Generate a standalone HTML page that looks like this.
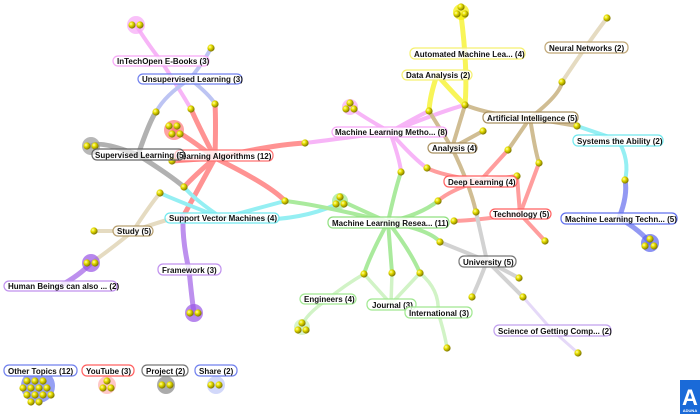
<!DOCTYPE html>
<html><head><meta charset="utf-8"><style>
html,body{margin:0;padding:0;background:#fff;width:700px;height:414px;overflow:hidden}
svg text{font-family:"Liberation Sans",sans-serif;font-size:8px;font-weight:bold;fill:#111}
</style></head><body>
<svg width="700" height="414" viewBox="0 0 700 414" xmlns="http://www.w3.org/2000/svg">
<defs>
<radialGradient id="b" cx="35%" cy="35%" r="65%"><stop offset="0" stop-color="#ffffb0"/><stop offset="0.4" stop-color="#e8e000"/><stop offset="1" stop-color="#807800"/></radialGradient>
</defs>
<g fill="none" stroke-linecap="round" stroke-width="4" opacity="0.65">
<!-- pink InTech -->
<g stroke="#f38ef3"><path d="M161 61 Q145 40 136 25"/><path d="M161 61 Q180 90 191 109"/></g>
<!-- blue unsup -->
<g stroke="#9aa5ee"><path d="M190 79 Q205 60 211 48"/><path d="M190 79 Q165 95 156 112"/><path d="M190 79 Q210 95 215 104"/></g>
<!-- red hub -->
<g stroke="#ff5a5a" stroke-width="5"><path d="M215 158 Q185 135 174 130"/><path d="M215 158 Q198 125 191 109"/><path d="M215 158 Q216 120 215 104"/><path d="M215 158 L172 161"/><path d="M215 158 Q195 175 184 187"/><path d="M215 158 Q270 185 285 201"/><path d="M215 158 Q270 145 305 143"/><path d="M215 158 Q195 195 184 215"/></g>
<!-- gray sup -->
<g stroke="#888" stroke-width="5"><path d="M138 155 Q100 140 91 146"/><path d="M138 155 Q150 120 156 112"/><path d="M138 155 Q170 175 184 187"/></g>
<!-- cyan svm -->
<g stroke="#5ee8ee" stroke-width="4"><path d="M222 218 Q195 200 184 187"/><path d="M222 218 Q270 205 285 201"/><path d="M222 218 Q290 225 335 205"/><path d="M222 218 Q175 200 160 193"/></g>
<!-- tan study -->
<g stroke="#d8c8a0"><path d="M133 231 L94 231"/><path d="M133 231 Q110 250 91 263"/><path d="M133 231 Q150 205 160 193"/><path d="M133 231 Q165 220 185 215"/></g>
<!-- purple -->
<g stroke="#9a55e6" stroke-width="5"><path d="M60 286 Q80 275 91 263"/><path d="M189 270 Q182 240 183 215"/><path d="M189 270 Q192 300 194 313"/></g>
<!-- green MLR -->
<g stroke="#7ee06a" stroke-width="4"><path d="M388 222 Q350 205 340 200"/><path d="M388 222 Q320 205 285 201"/><path d="M388 222 Q395 190 401 172"/><path d="M388 222 Q420 215 438 201"/><path d="M388 222 Q430 230 440 242"/><path d="M388 222 Q370 255 364 274"/><path d="M388 222 L392 273"/><path d="M388 222 Q410 250 420 273"/><path d="M388 222 Q305 200 305 143" opacity="0"/></g>
<g stroke="#b9eea8" stroke-width="3.5"><path d="M328 299 Q345 285 364 274"/><path d="M328 299 Q305 315 302 326"/><path d="M391 304 L364 274"/><path d="M391 304 L392 273"/><path d="M391 304 L420 273"/><path d="M438 312 Q440 290 420 273"/><path d="M438 312 Q445 335 447 348"/></g>
<!-- pink MLM -->
<g stroke="#f38ef3" stroke-width="4"><path d="M390 132 Q360 115 350 107"/><path d="M390 132 Q330 140 305 143"/><path d="M390 132 Q420 115 429 111"/><path d="M390 132 Q445 110 465 105"/><path d="M390 132 Q400 160 401 172"/><path d="M390 132 Q415 160 427 168"/></g>
<!-- yellow -->
<g stroke="#f5f000" stroke-width="5"><path d="M461 15 Q468 70 465 105"/><path d="M437 75 Q430 95 429 111"/><path d="M437 75 Q455 95 465 105"/></g>
<!-- tan AI -->
<g stroke="#b89a5a" stroke-width="4"><path d="M530 118 Q560 95 562 82"/><path d="M562 82 Q590 40 607 18" stroke="#d8c8a0"/><path d="M530 118 Q490 115 465 105"/><path d="M530 118 L577 126"/><path d="M530 118 Q535 150 539 163"/><path d="M530 118 Q515 140 508 150"/><path d="M452 148 L429 111"/><path d="M452 148 L465 105"/><path d="M452 148 L483 131"/><path d="M452 148 Q470 185 476 212"/></g>
<!-- cyan sys -->
<g stroke="#5ee8ee"><path d="M618 140 L577 126"/><path d="M618 140 Q630 160 625 180"/></g>
<!-- blue MLT -->
<g stroke="#5a64ee" stroke-width="5"><path d="M619 218 Q628 195 625 180"/><path d="M619 218 Q640 230 650 243"/></g>
<!-- red deep/tech -->
<g stroke="#ff6a6a" stroke-width="4"><path d="M480 181 L508 150"/><path d="M480 181 L517 176"/><path d="M480 181 Q450 190 438 201"/><path d="M480 181 Q440 175 427 168"/><path d="M520 214 L539 163"/><path d="M520 214 L517 176"/><path d="M520 214 Q535 230 545 241"/><path d="M520 214 Q480 220 454 221"/></g>
<!-- gray univ -->
<g stroke="#bbb" stroke-width="4"><path d="M487 261 L476 212"/><path d="M487 261 L440 242"/><path d="M487 261 Q478 285 472 297"/><path d="M487 261 L519 278"/><path d="M487 261 L523 297"/></g>
<g stroke="#d8c6f5" stroke-width="3"><path d="M552 330 L523 297"/><path d="M552 330 L578 353"/></g>
</g>
<!-- cluster blobs -->
<g opacity="0.7">
<circle cx="136" cy="25" r="9" fill="#f7a8f7"/>
<circle cx="174" cy="130" r="10" fill="#ff7a7a"/>
<circle cx="91" cy="146" r="9" fill="#999"/>
<circle cx="91" cy="263" r="9" fill="#9a55e6"/>
<circle cx="194" cy="313" r="9" fill="#9a55e6"/>
<circle cx="302" cy="327" r="8" fill="#c8f0b8"/>
<circle cx="340" cy="201" r="8" fill="#9ee88a"/>
<circle cx="350" cy="107" r="8" fill="#f7a8f7"/>
<circle cx="461" cy="12" r="8" fill="#f5f000"/>
<circle cx="650" cy="243" r="9" fill="#5a64ee"/>
<circle cx="38" cy="386" r="17" fill="#6a78f0"/>
<circle cx="107" cy="385" r="9" fill="#ffb0b0"/>
<circle cx="166" cy="385" r="9" fill="#888"/>
<circle cx="216" cy="385" r="9" fill="#c0c8f8"/>
</g>
<!-- balls -->
<g fill="url(#b)">
<circle cx="132" cy="25" r="3.6"/><circle cx="140" cy="25" r="3.6"/>
<circle cx="211" cy="48" r="3.6"/><circle cx="191" cy="109" r="3.6"/><circle cx="215" cy="104" r="3.6"/><circle cx="156" cy="112" r="3.6"/>
<circle cx="169" cy="126" r="3.6"/><circle cx="177" cy="126" r="3.6"/><circle cx="172" cy="134" r="3.6"/><circle cx="180" cy="134" r="3.6"/>
<circle cx="87" cy="146" r="3.6"/><circle cx="95" cy="146" r="3.6"/>
<circle cx="172" cy="161" r="3.6"/><circle cx="160" cy="193" r="3.6"/><circle cx="184" cy="187" r="3.6"/>
<circle cx="285" cy="201" r="3.6"/><circle cx="305" cy="143" r="3.6"/>
<circle cx="340" cy="197" r="3.6"/><circle cx="336" cy="204" r="3.6"/><circle cx="344" cy="204" r="3.6"/>
<circle cx="350" cy="103" r="3.6"/><circle cx="346" cy="109" r="3.6"/><circle cx="354" cy="109" r="3.6"/>
<circle cx="461" cy="7" r="3.6"/><circle cx="457" cy="14" r="3.6"/><circle cx="465" cy="14" r="3.6"/>
<circle cx="465" cy="105" r="3.6"/><circle cx="429" cy="111" r="3.6"/><circle cx="483" cy="131" r="3.6"/>
<circle cx="562" cy="82" r="3.6"/><circle cx="607" cy="18" r="3.6"/><circle cx="577" cy="126" r="3.6"/>
<circle cx="508" cy="150" r="3.6"/><circle cx="539" cy="163" r="3.6"/><circle cx="517" cy="176" r="3.6"/>
<circle cx="427" cy="168" r="3.6"/><circle cx="401" cy="172" r="3.6"/><circle cx="438" cy="201" r="3.6"/>
<circle cx="625" cy="180" r="3.6"/><circle cx="650" cy="239" r="3.6"/><circle cx="645" cy="246" r="3.6"/><circle cx="654" cy="246" r="3.6"/>
<circle cx="545" cy="241" r="3.6"/><circle cx="476" cy="212" r="3.6"/><circle cx="454" cy="221" r="3.6"/><circle cx="440" cy="242" r="3.6"/>
<circle cx="364" cy="274" r="3.6"/><circle cx="392" cy="273" r="3.6"/><circle cx="420" cy="273" r="3.6"/>
<circle cx="472" cy="297" r="3.6"/><circle cx="519" cy="278" r="3.6"/><circle cx="523" cy="297" r="3.6"/>
<circle cx="578" cy="353" r="3.6"/><circle cx="447" cy="348" r="3.6"/>
<circle cx="302" cy="323" r="3.6"/><circle cx="298" cy="330" r="3.6"/><circle cx="306" cy="330" r="3.6"/>
<circle cx="94" cy="231" r="3.6"/><circle cx="87" cy="263" r="3.6"/><circle cx="95" cy="263" r="3.6"/>
<circle cx="190" cy="313" r="3.6"/><circle cx="198" cy="313" r="3.6"/>
<circle cx="107" cy="381" r="3.6"/><circle cx="103" cy="388" r="3.6"/><circle cx="111" cy="388" r="3.6"/>
<circle cx="162" cy="385" r="3.6"/><circle cx="170" cy="385" r="3.6"/>
<circle cx="211" cy="385" r="3.6"/><circle cx="219" cy="385" r="3.6"/>
<circle cx="27" cy="381" r="3.6"/><circle cx="35" cy="381" r="3.6"/><circle cx="43" cy="381" r="3.6"/>
<circle cx="23" cy="388" r="3.6"/><circle cx="31" cy="388" r="3.6"/><circle cx="39" cy="388" r="3.6"/><circle cx="47" cy="388" r="3.6"/>
<circle cx="27" cy="395" r="3.6"/><circle cx="35" cy="395" r="3.6"/><circle cx="43" cy="395" r="3.6"/><circle cx="51" cy="395" r="3.6"/>
<circle cx="31" cy="402" r="3.6"/><circle cx="39" cy="402" r="3.6"/>
</g>
<!-- labels -->
<g stroke-width="1.2">
<rect x="113" y="56" width="96" height="10" rx="5" fill="#fff" fill-opacity="0.8" stroke="#f7a8f7"/><text x="117" y="64">InTechOpen E-Books (3)</text>
<rect x="138" y="74" width="104" height="10" rx="5" fill="#fff" fill-opacity="0.8" stroke="#7080ee"/><text x="142" y="82">Unsupervised Learning (3)</text>
<rect x="175" y="150" width="98" height="11" rx="5" fill="#fff" fill-opacity="0.8" stroke="#ff7070"/><text x="177" y="159">Learning Algorithms (12)</text>
<rect x="92" y="149" width="92" height="11" rx="5" fill="#fff" fill-opacity="0.6" stroke="#666"/><text x="95" y="158">Supervised Learning (5)</text>
<rect x="332" y="127" width="115" height="10" rx="5" fill="#fff" fill-opacity="0.8" stroke="#f7a8f7"/><text x="335" y="135">Machine Learning Metho... (8)</text>
<rect x="410" y="48" width="115" height="11" rx="5" fill="#fff" fill-opacity="0.8" stroke="#f5f070"/><text x="414" y="57">Automated Machine Lea... (4)</text>
<rect x="402" y="70" width="70" height="10" rx="5" fill="#fff" fill-opacity="0.8" stroke="#f5f070"/><text x="406" y="78">Data Analysis (2)</text>
<rect x="545" y="42" width="83" height="11" rx="5" fill="#fff" fill-opacity="0.8" stroke="#c0a878"/><text x="549" y="51">Neural Networks (2)</text>
<rect x="483" y="112" width="95" height="11" rx="5" fill="#fff" fill-opacity="0.8" stroke="#a89060"/><text x="487" y="121">Artificial Intelligence (5)</text>
<rect x="428" y="143" width="49" height="10" rx="5" fill="#fff" fill-opacity="0.8" stroke="#a89060"/><text x="432" y="151">Analysis (4)</text>
<rect x="573" y="135" width="90" height="11" rx="5" fill="#fff" fill-opacity="0.8" stroke="#70e8ee"/><text x="577" y="144">Systems the Ability (2)</text>
<rect x="444" y="176" width="73" height="11" rx="5" fill="#fff" fill-opacity="0.8" stroke="#ff6060"/><text x="448" y="185">Deep Learning (4)</text>
<rect x="490" y="209" width="61" height="10" rx="5" fill="#fff" fill-opacity="0.8" stroke="#ff6060"/><text x="493" y="217">Technology (5)</text>
<rect x="561" y="213" width="116" height="11" rx="5" fill="#fff" fill-opacity="0.8" stroke="#6070ee"/><text x="565" y="222">Machine Learning Techn... (5)</text>
<rect x="328" y="217" width="121" height="11" rx="5" fill="#fff" fill-opacity="0.8" stroke="#90e080"/><text x="332" y="226">Machine Learning Resea... (11)</text>
<rect x="165" y="213" width="114" height="10" rx="5" fill="#fff" fill-opacity="0.8" stroke="#70e8ee"/><text x="169" y="221">Support Vector Machines (4)</text>
<rect x="113" y="226" width="40" height="10" rx="5" fill="#fff" fill-opacity="0.8" stroke="#b8a070"/><text x="117" y="234">Study (5)</text>
<rect x="158" y="264" width="63" height="11" rx="5" fill="#fff" fill-opacity="0.8" stroke="#c090ee"/><text x="162" y="273">Framework (3)</text>
<rect x="4" y="281" width="113" height="10" rx="5" fill="#fff" fill-opacity="0.8" stroke="#c090ee"/><text x="8" y="289">Human Beings can also ... (2)</text>
<rect x="459" y="256" width="57" height="11" rx="5" fill="#fff" fill-opacity="0.8" stroke="#777"/><text x="463" y="265">University (5)</text>
<rect x="300" y="294" width="56" height="10" rx="5" fill="#fff" fill-opacity="0.8" stroke="#a0e890"/><text x="304" y="302">Engineers (4)</text>
<rect x="367" y="299" width="49" height="11" rx="5" fill="#fff" fill-opacity="0.8" stroke="#a0e890"/><text x="372" y="308">Journal (3)</text>
<rect x="405" y="307" width="67" height="11" rx="5" fill="#fff" fill-opacity="0.8" stroke="#a0e890"/><text x="409" y="316">International (3)</text>
<rect x="494" y="325" width="117" height="11" rx="5" fill="#fff" fill-opacity="0.8" stroke="#c0a0ee"/><text x="498" y="334">Science of Getting Comp... (2)</text>
<rect x="4" y="365" width="73" height="11" rx="5" fill="#fff" stroke="#7080ee"/><text x="8" y="374">Other Topics (12)</text>
<rect x="82" y="365" width="52" height="11" rx="5" fill="#fff" stroke="#ff6060"/><text x="86" y="374">YouTube (3)</text>
<rect x="142" y="365" width="46" height="11" rx="5" fill="#fff" stroke="#777"/><text x="146" y="374">Project (2)</text>
<rect x="195" y="365" width="42" height="11" rx="5" fill="#fff" stroke="#7080ee"/><text x="199" y="374">Share (2)</text>
</g>
<rect x="680" y="380" width="20" height="34" fill="#1a6ad8"/>
<text x="690" y="405" text-anchor="middle" style="font-size:22px;fill:#fff;font-weight:bold">A</text>
<text x="690" y="412" text-anchor="middle" style="font-size:4px;fill:#fff">ADUNA</text>
</svg>
</body></html>
